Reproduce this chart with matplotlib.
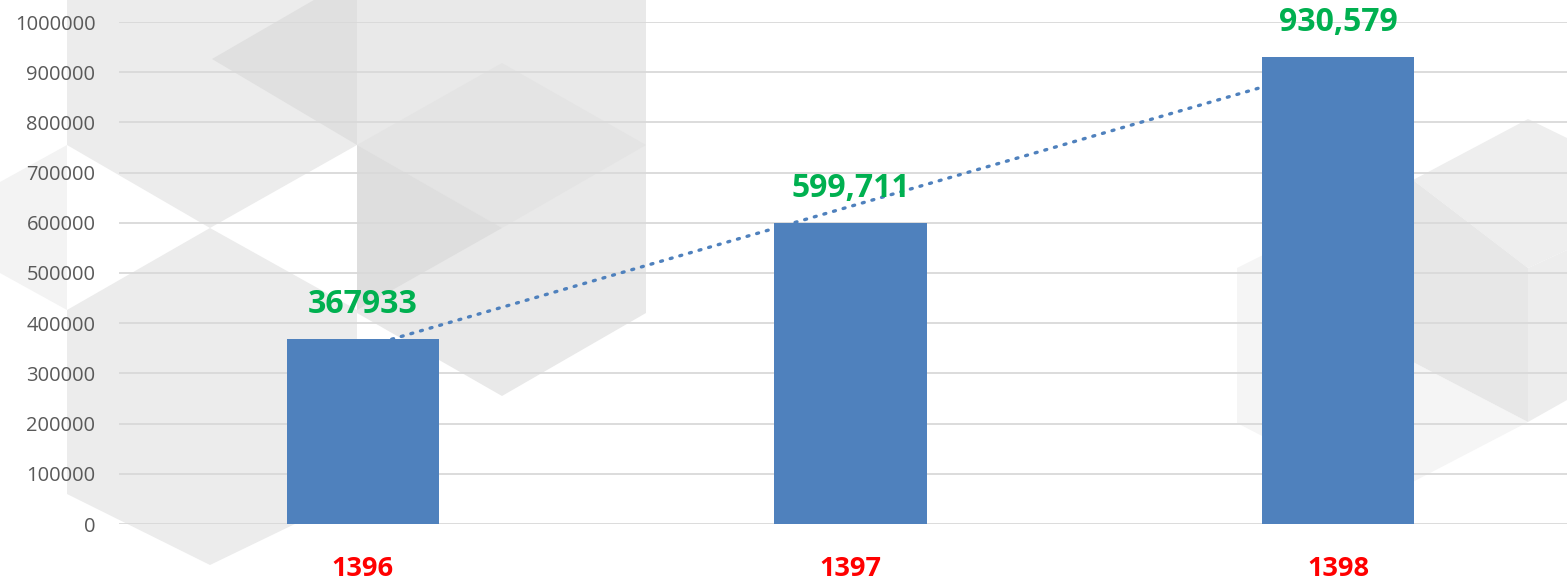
import matplotlib
matplotlib.use("Agg")
import matplotlib.pyplot as plt
from matplotlib.patches import Polygon
import numpy as np

years = ["1396", "1397", "1398"]
values = [367933, 599711, 930579]
value_labels = ["367933", "599,711", "930,579"]
y_ticks = [0, 100000, 200000, 300000, 400000, 500000, 600000, 700000, 800000, 900000, 1000000]

W, H = 1567, 579
BAR_COLOR = "#4f81bd"
FONT = ["Open Sans", "DejaVu Sans"]

# decorative background (isometric cube pattern), pixel coordinates
background = [
    ([(67, 0), (357, 0), (357, 145), (210, 228), (67, 145)], "#ececec"),
    ([(212, 59), (357, -25), (357, 145)], "#e0e0e0"),
    ([(357, 0), (646, 0), (646, 313), (502, 396), (357, 313)], "#e9e9e9"),
    ([(357, 145), (502, 63), (646, 145), (502, 228)], "#e4e4e4"),
    ([(357, 145), (502, 228), (357, 310)], "#dedede"),
    ([(0, 182), (67, 145), (67, 310), (0, 273)], "#f3f3f3"),
    ([(67, 310), (210, 228), (357, 310), (357, 494), (210, 565), (67, 494)], "#ececec"),
    ([(1237, 268), (1413, 180), (1413, 362), (1528, 422), (1382, 498), (1237, 423)], "#f5f5f5"),
    ([(1413, 180), (1528, 119), (1567, 138), (1567, 250), (1528, 268)], "#eeeeee"),
    ([(1413, 180), (1528, 268), (1528, 422), (1413, 362)], "#e7e7e7"),
    ([(1528, 268), (1567, 250), (1567, 400), (1528, 422)], "#ededed"),
]

fig = plt.figure(figsize=(W / 100, H / 100), dpi=100)
for pts, color in background:
    fig.add_artist(Polygon([(x / W, 1 - y / H) for x, y in pts], closed=True,
                           transform=fig.transFigure, facecolor=color,
                           edgecolor="none", zorder=0))

ax = fig.add_axes([119 / W, (H - 524) / H, 1463 / W, 502 / H])
ax.patch.set_alpha(0)

x = np.arange(len(years))
ax.bar(x, values, width=0.312, color=BAR_COLOR, zorder=3)

# linear trendline behind the bars
slope, intercept = np.polyfit(x + 1, values, 1)
ax.plot(x, slope * (x + 1) + intercept, linestyle=(0, (0.6, 2.4)), linewidth=2.4,
        color=BAR_COLOR, dash_capstyle="round", zorder=2)

for xi, v, lab in zip(x, values, value_labels):
    ax.annotate(lab, (xi, v), xytext=(0, 25), textcoords="offset points",
                ha="center", va="center", color="#00b050", fontsize=23,
                fontweight="bold", family=FONT, zorder=5, annotation_clip=False)

ax.set_xlim(-0.5, 2.5)
ax.set_ylim(0, 1000000)
ax.set_yticks(y_ticks)
ax.set_yticklabels([str(t) for t in y_ticks], family=FONT, fontsize=14.5, color="#595959")
ax.set_xticks(x)
ax.set_xticklabels(years, family=FONT, fontsize=19.5, fontweight="bold", color="#ff0000")
ax.tick_params(axis="x", length=0, pad=23)
ax.tick_params(axis="y", length=0, pad=17)
ax.grid(True, axis="y", color="#d9d9d9", linewidth=1.3, zorder=1)
ax.set_axisbelow(True)
for s in ax.spines.values():
    s.set_visible(False)

fig.savefig("out.png", dpi=100)
